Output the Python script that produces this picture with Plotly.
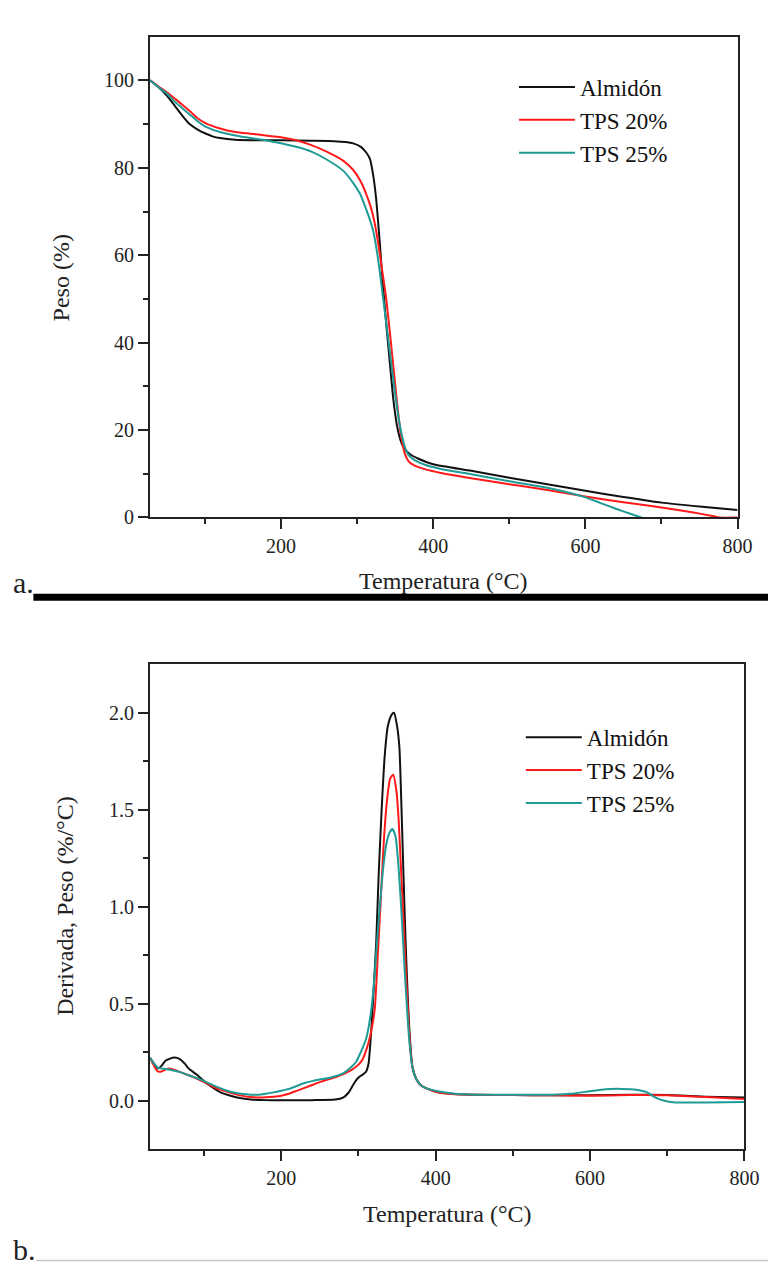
import plotly.graph_objects as go

# ---------------- data: TGA (weight %) ----------------
tga_T_alm = [28, 40, 50, 60, 70, 80, 90, 100, 110, 120, 140, 160, 200, 240, 270, 285, 295,
             305, 312, 317, 321, 325, 330, 334, 338, 343, 348, 353, 358, 363, 370, 380, 400,
             450, 500, 550, 600, 650, 700, 750, 800]
tga_w_alm = [100, 98.3, 96.5, 94.3, 92.0, 90.0, 88.8, 87.9, 87.2, 86.8, 86.4, 86.3, 86.3, 86.2, 86.1, 85.9, 85.6,
             84.8, 83.5, 82.0, 78.5, 73.0, 62.5, 53.0, 45.0, 35.5, 26.5, 20.5, 17.2, 15.6, 14.4, 13.5, 12.2,
             10.7, 9.1, 7.6, 6.1, 4.7, 3.4, 2.5, 1.7]

tga_T_tps20 = [28, 40, 50, 60, 70, 80, 90, 100, 120, 140, 160, 180, 200, 220, 240, 260, 282, 295,
               305, 312, 318, 323, 328, 333, 338, 343, 348, 353, 358, 363, 368, 375, 390, 410,
               450, 500, 550, 600, 650, 700, 740, 765, 776, 800]
tga_w_tps20 = [100, 98.5, 97.3, 95.9, 94.5, 93.0, 91.4, 90.3, 89.0, 88.2, 87.8, 87.4, 87.0, 86.3, 85.2, 83.7, 81.6, 79.5,
               76.8, 74.0, 71.0, 67.5, 62.5, 56.5, 50.5, 42.5, 34.0, 25.5, 18.5, 14.5, 12.8, 11.9, 11.0, 10.2,
               9.0, 7.6, 6.3, 4.8, 3.5, 2.3, 1.2, 0.4, 0.0, 0.0]

tga_T_tps25 = [28, 40, 50, 60, 70, 80, 90, 100, 120, 140, 160, 180, 200, 220, 240, 260, 282, 295,
               304, 312, 318, 321, 326, 330, 334, 338, 343, 348, 353, 358, 363, 368, 375, 390, 410,
               450, 500, 550, 580, 600, 620, 640, 660, 673, 690]
tga_w_tps25 = [100, 98.3, 97.0, 95.2, 93.7, 92.2, 90.7, 89.5, 88.2, 87.4, 86.8, 86.3, 85.6, 84.8, 83.7, 81.9, 79.3, 76.5,
               74.0, 70.5, 67.5, 65.7, 61.0, 56.0, 50.5, 45.0, 38.0, 31.0, 24.5, 19.5, 16.0, 14.2, 13.2, 12.0, 11.1,
               9.9, 8.3, 6.8, 5.6, 4.6, 3.3, 2.0, 0.8, 0.0, -1.2]

# ---------------- data: DTG (%/°C) ----------------
dtg_T_alm = [30, 35, 40, 45, 50, 55, 62, 68, 75, 80, 90, 100, 110, 120, 130, 140, 150, 160, 180, 200, 240,
             270, 280, 287, 293, 298, 302, 306, 310, 313, 317, 320, 323, 326, 330, 334, 338, 343, 346,
             350, 353, 355, 358, 361, 366, 370, 375, 382, 390, 400, 425, 450, 500, 550, 600, 650, 700, 750, 800]
dtg_d_alm = [0.22, 0.19, 0.165, 0.18, 0.205, 0.215, 0.222, 0.215, 0.19, 0.165, 0.135, 0.1, 0.07, 0.045, 0.03, 0.018,
             0.01, 0.005, 0.002, 0.002, 0.002, 0.005, 0.015, 0.04, 0.08, 0.11, 0.125, 0.135, 0.15, 0.19, 0.39, 0.6,
             0.82, 1.15, 1.5, 1.78, 1.93, 1.99, 2.0, 1.93, 1.82, 1.6, 1.2, 0.82, 0.36, 0.17, 0.11, 0.075, 0.06, 0.045,
             0.033, 0.03, 0.028, 0.027, 0.027, 0.03, 0.028, 0.02, 0.015]

dtg_T_tps20 = [30, 35, 40, 45, 50, 55, 60, 70, 80, 90, 100, 110, 120, 130, 140, 150, 160, 170, 180, 190, 200,
               210, 220, 230, 240, 250, 260, 270, 280, 290, 300, 305, 310, 315, 321, 325, 329, 333, 337, 341, 345,
               349, 352, 355, 358, 361, 366, 370, 375, 382, 400, 425, 450, 500, 550, 600, 650, 700, 750, 800]
dtg_d_tps20 = [0.22, 0.18, 0.15, 0.15, 0.16, 0.165, 0.16, 0.145, 0.13, 0.115, 0.095, 0.075, 0.058, 0.045, 0.033, 0.024,
               0.018, 0.016, 0.017, 0.02, 0.025, 0.035, 0.05, 0.065, 0.08, 0.095, 0.108, 0.12, 0.135, 0.155, 0.185, 0.21,
               0.26, 0.33, 0.47, 0.75, 1.05, 1.35, 1.55, 1.66, 1.68, 1.6, 1.45, 1.2, 0.95, 0.7, 0.33, 0.17, 0.11,
               0.075, 0.045, 0.032, 0.03, 0.028, 0.027, 0.025, 0.028, 0.027, 0.018, 0.008]

dtg_T_tps25 = [30, 35, 40, 45, 50, 60, 70, 80, 90, 100, 110, 120, 130, 140, 150, 160, 170, 180, 190, 200,
               210, 220, 230, 240, 250, 260, 270, 280, 290, 297, 303, 310, 316, 320, 324, 328, 332, 336, 340, 344,
               348, 351, 354, 357, 360, 366, 370, 375, 382, 400, 425, 450, 500, 550, 575, 600, 620, 640, 660, 672,
               685, 695, 710, 750, 800]
dtg_d_tps25 = [0.22, 0.19, 0.17, 0.165, 0.163, 0.155, 0.145, 0.13, 0.117, 0.1, 0.082, 0.065, 0.05, 0.04, 0.033, 0.03,
               0.03, 0.035, 0.042, 0.05, 0.06, 0.075, 0.09, 0.1, 0.108, 0.115, 0.125, 0.14, 0.17, 0.2, 0.25, 0.32,
               0.45, 0.6, 0.82, 1.02, 1.2, 1.32, 1.38, 1.4, 1.36, 1.25, 1.08, 0.88, 0.66, 0.3, 0.17, 0.11, 0.075,
               0.05, 0.035, 0.03, 0.03, 0.03, 0.035, 0.048, 0.058, 0.06, 0.056, 0.045, 0.015, 0.0, -0.01, -0.01, -0.008]

names = ["Almidón", "TPS 20%", "TPS 25%"]
colors = ["#111111", "#ff1a1a", "#1f9a94"]

W, H = 783, 1274
FONT = "Times New Roman, Liberation Serif, DejaVu Serif, serif"
INK = "#222222"

fig = go.Figure()
tga = [(tga_T_alm, tga_w_alm), (tga_T_tps20, tga_w_tps20), (tga_T_tps25, tga_w_tps25)]
dtg = [(dtg_T_alm, dtg_d_alm), (dtg_T_tps20, dtg_d_tps20), (dtg_T_tps25, dtg_d_tps25)]
for (x, y), n, c in zip(tga, names, colors):
    fig.add_trace(go.Scatter(x=x, y=y, name=n, mode="lines", xaxis="x", yaxis="y",
                             line=dict(color=c, width=2, shape="spline", smoothing=0.6),
                             legend="legend"))
for (x, y), n, c in zip(dtg, names, colors):
    fig.add_trace(go.Scatter(x=x, y=y, name=n, mode="lines", xaxis="x2", yaxis="y2",
                             line=dict(color=c, width=2, shape="spline", smoothing=0.6),
                             legend="legend2"))

def ax(**kw):
    d = dict(showline=True, linewidth=2, linecolor=INK, mirror=True, ticks="outside",
             ticklen=10, tickwidth=2, tickcolor=INK, showgrid=False, zeroline=False,
             tickfont=dict(family=FONT, size=20, color=INK))
    d.update(kw)
    return d

minor_x = dict(tickvals=[100, 300, 500, 700], ticks="outside", ticklen=5, tickwidth=2,
               tickcolor=INK, showgrid=False)

fig.update_layout(
    width=W, height=H, margin=dict(l=0, r=0, t=0, b=0),
    paper_bgcolor="white", plot_bgcolor="white",
    font=dict(family=FONT, color=INK),
    xaxis=ax(domain=[153 / W, 752 / W], range=[28, 800], anchor="y",
             tickvals=[200, 400, 600, 800], minor=minor_x),
    yaxis=ax(domain=[1 - 522 / H, 1 - 37 / H], range=[0, 110], anchor="x",
             tickvals=[0, 20, 40, 60, 80, 100],
             minor=dict(tickvals=[10, 30, 50, 70, 90], ticks="outside", ticklen=5,
                        tickwidth=2, tickcolor=INK, showgrid=False)),
    xaxis2=ax(domain=[153 / W, 759 / W], range=[30, 800], anchor="y2",
              tickvals=[200, 400, 600, 800], minor=minor_x),
    yaxis2=ax(domain=[1 - 1159 / H, 1 - 670 / H], range=[-0.25, 2.25], anchor="x2",
              tickvals=[0, 0.5, 1.0, 1.5, 2.0], tickformat=".1f",
              minor=dict(tickvals=[0.25, 0.75, 1.25, 1.75], ticks="outside", ticklen=5,
                         tickwidth=2, tickcolor=INK, showgrid=False)),
    legend=dict(x=524 / W, y=1 - 66 / H, xanchor="left", yanchor="top",
                bgcolor="rgba(0,0,0,0)", font=dict(family=FONT, size=23, color="#111"),
                itemwidth=56, tracegroupgap=0),
    legend2=dict(x=531 / W, y=1 - 722 / H, xanchor="left", yanchor="top",
                 bgcolor="rgba(0,0,0,0)", font=dict(family=FONT, size=23, color="#111"),
                 itemwidth=56, tracegroupgap=0),
    showlegend=True,
)

def label(text, x, y, size=24, angle=0, anchor="center"):
    fig.add_annotation(text=text, x=x / W, y=1 - y / H, xref="paper", yref="paper",
                       showarrow=False, textangle=angle, xanchor=anchor, yanchor="middle",
                       font=dict(family=FONT, size=size, color=INK))

label("Temperatura (°C)", 452, 586)
label("Peso (%)", 62, 280, angle=-90)
label("Temperatura (°C)", 456, 1225)
label("Derivada, Peso (%/°C)", 66, 914, angle=-90)
label("a.", 11, 588, size=30, anchor="left")
label("b.", 11, 1260, size=30, anchor="left")

fig.add_shape(type="rect", xref="paper", yref="paper", x0=34 / W, x1=1.0,
              y0=1 - 606 / H, y1=1 - 599 / H, fillcolor="black", line=dict(width=0))
fig.add_shape(type="line", xref="paper", yref="paper", x0=37 / W, x1=1.0,
              y0=1 - 1271.5 / H, y1=1 - 1271.5 / H, line=dict(color="#c8c8c8", width=1.5))

fig.write_html("out.html")
